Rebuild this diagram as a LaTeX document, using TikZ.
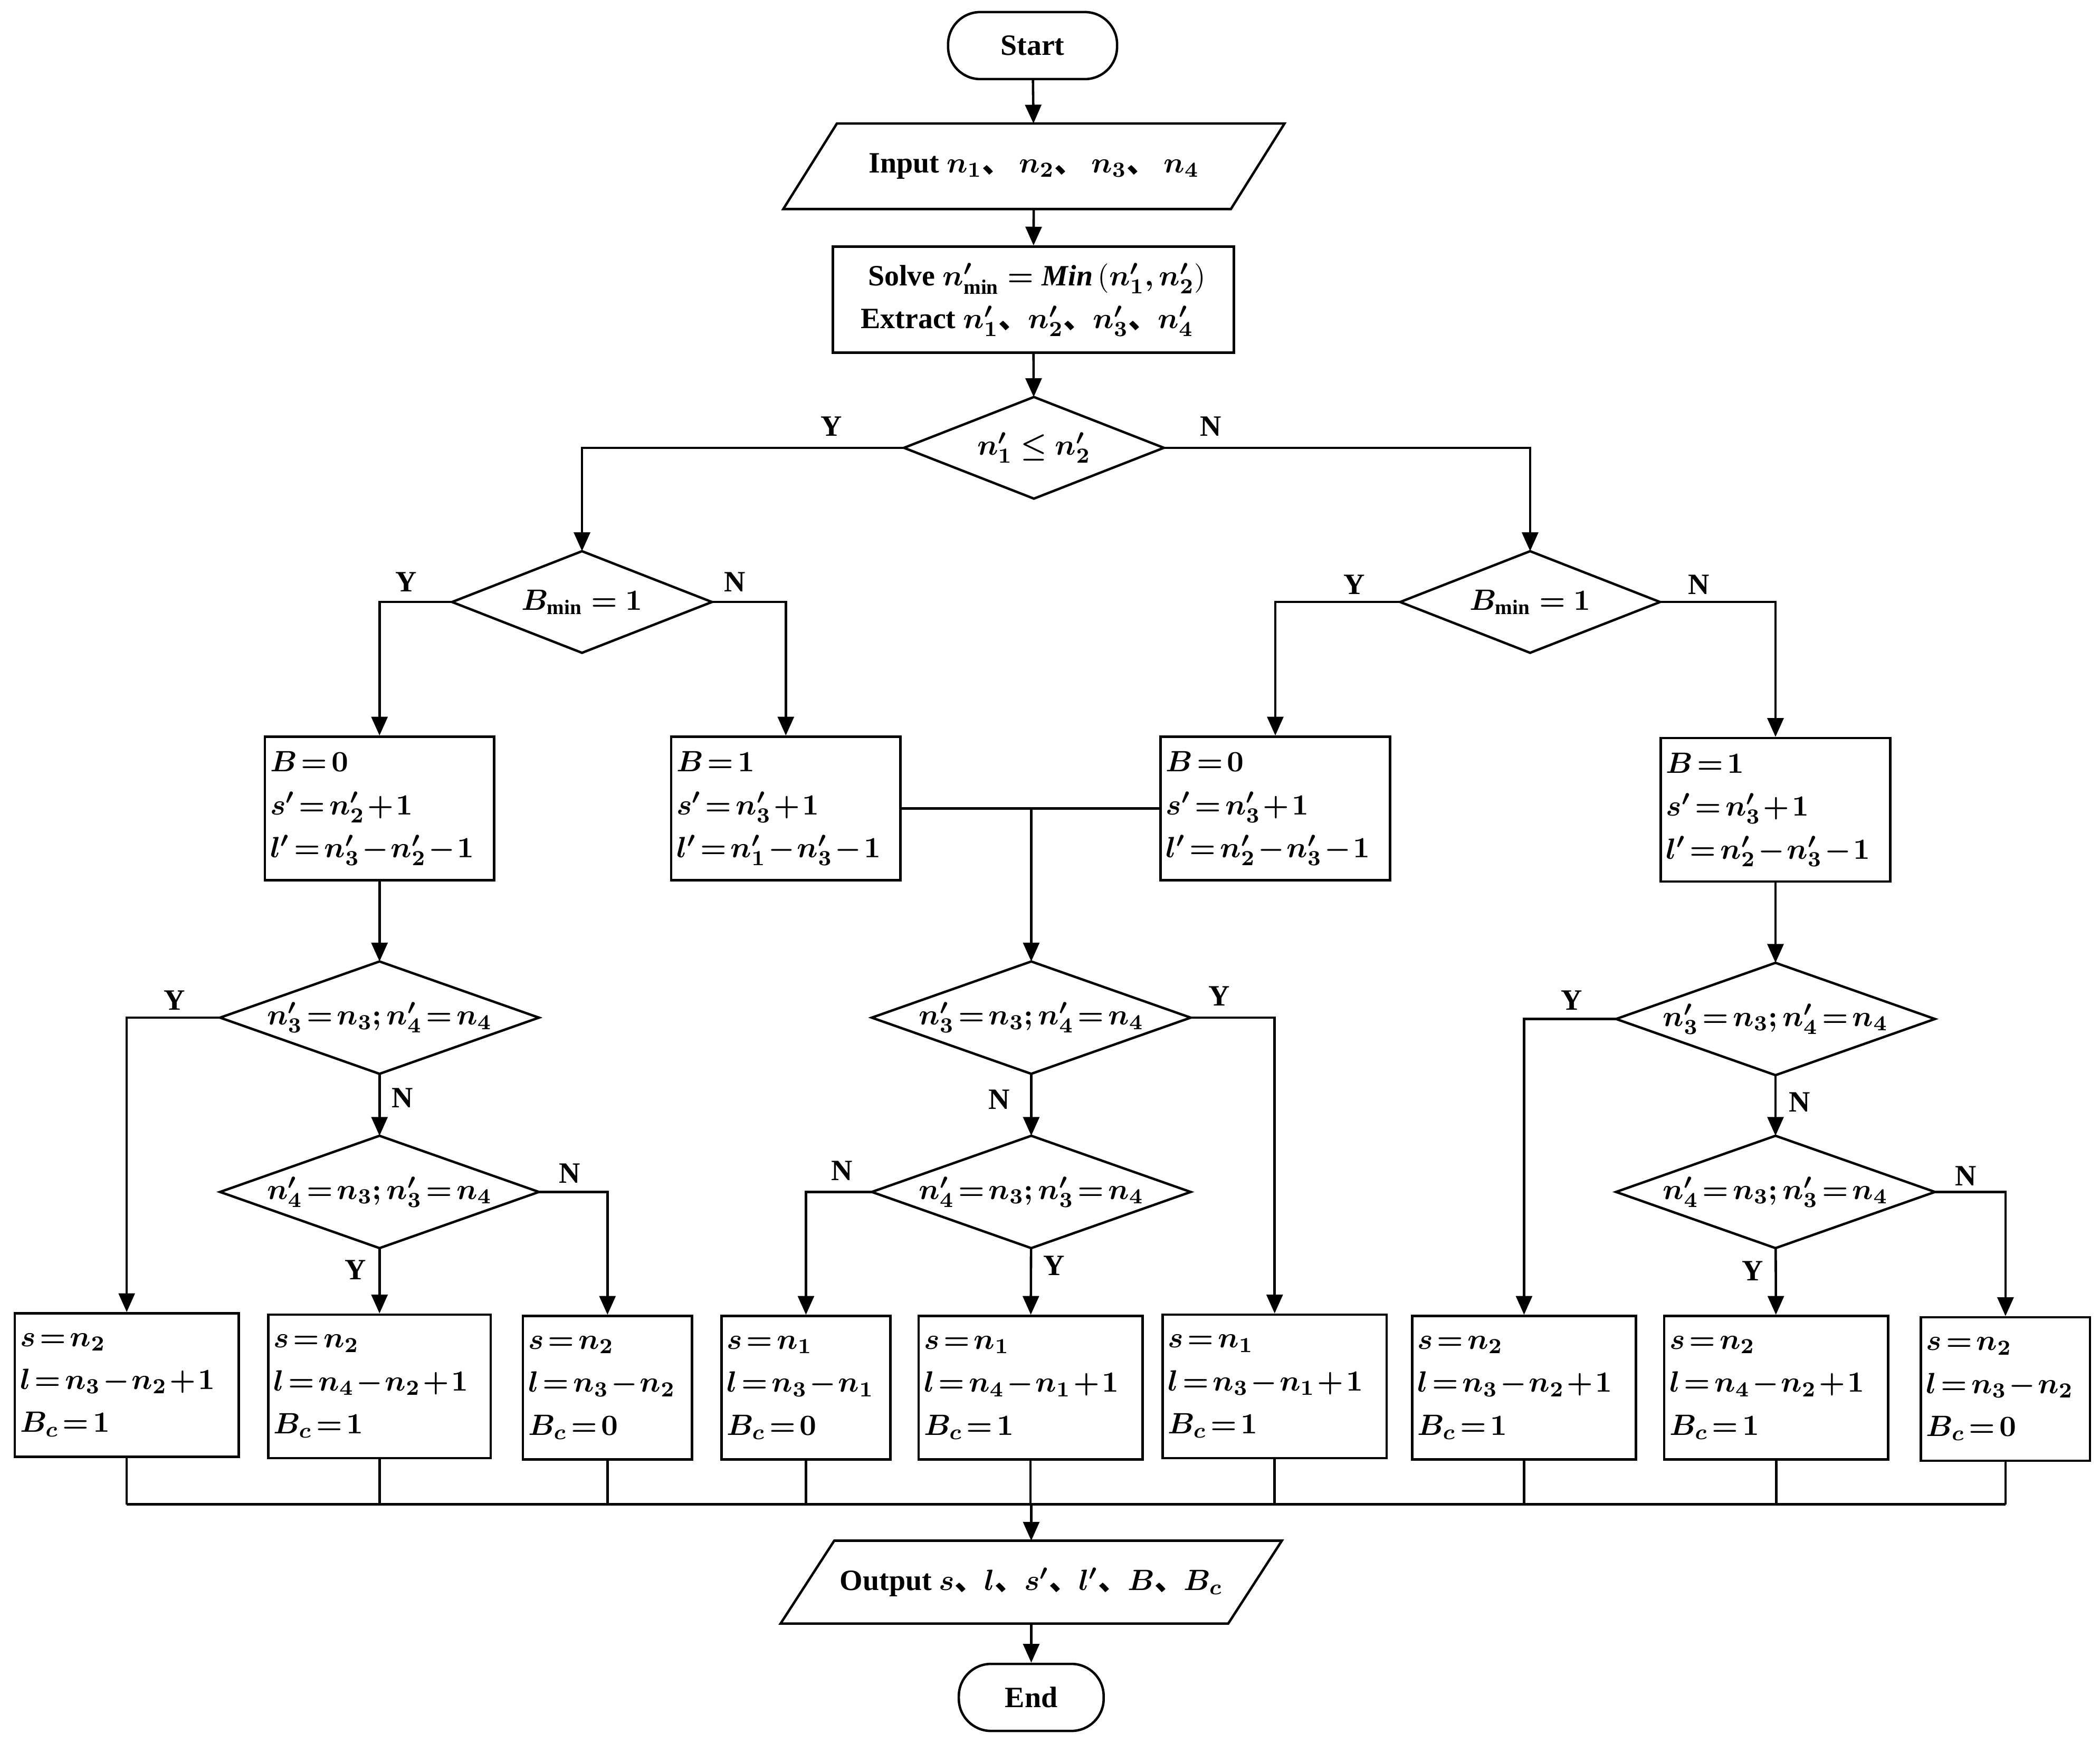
\documentclass[tikz,border=0pt]{standalone}
\usepackage{fontspec}
\setmainfont{Liberation Serif}
\newfontfamily\cjk{Noto Sans CJK SC}
\usepackage{amsmath,bm}
\usetikzlibrary{arrows.meta}
\newcommand{\bb}[1]{$\bm{#1}$}
\newcommand{\dn}{{\cjk 、}}
\begin{document}
\begin{tikzpicture}[x=0.5pt,y=-0.5pt,line width=0.9pt,
  every node/.style={font=\bfseries\fontsize{11}{16}\selectfont},
  arr/.style={-{Triangle[length=7pt,width=6pt]}},
  box/.style={draw,minimum width=85.5pt,text width=81.5pt,minimum height=53.5pt,align=left,inner sep=2pt,
    execute at begin node={\medmuskip=1.5mu\thickmuskip=2.5mu}},
  sbox/.style={box,minimum width=63pt,text width=59pt},
  dia/.style={minimum width=118pt,minimum height=41pt,inner sep=0pt,execute at begin node={\medmuskip=1.5mu\thickmuskip=2.5mu}},
  dia2/.style={minimum width=96pt,minimum height=37pt,inner sep=0pt},
  lab/.style={font=\bfseries\fontsize{11}{12}\selectfont}]
\useasboundingbox (0,0) rectangle (1566,1300);
\newcommand{\dd}[1]{\draw (#1.west)--(#1.north)--(#1.east)--(#1.south)--cycle;}
\newcommand{\pg}[1]{\draw ([xshift=10pt]#1.north west)--([xshift=10pt]#1.north east)--([xshift=-10pt]#1.south east)--([xshift=-10pt]#1.south west)--cycle;}
% top
\node[draw,rounded corners=12pt,minimum width=63pt,minimum height=25pt] (st) at (770,34) {Start};
\node[minimum width=166pt,minimum height=31pt] (in) at (771,124) {Input \bb{n_1}\dn\ \bb{n_2}\dn\ \bb{n_3}\dn\ \bb{n_4}};
\pg{in}
\node[draw,minimum width=149.5pt,minimum height=39.5pt,align=left,inner sep=2pt] (so) at (770.5,223.5)
 {\ Solve $\bm{n'_{\min}=\mathit{Min}\left(n'_1,n'_2\right)}$\\Extract $\bm{n'_1}$\dn$\bm{n'_2}$\dn$\bm{n'_3}$\dn$\bm{n'_4}$};
\node[dia2] (d1) at (771,334) {$\bm{n'_1\le n'_2}$}; \dd{d1}
\node[dia2] (dl) at (434,449) {$\bm{B_{\min}=1}$}; \dd{dl}
\node[dia2] (dr) at (1141,449) {$\bm{B_{\min}=1}$}; \dd{dr}
% boxes row
\node[box] (b1) at (283,603) {$\bm{B=0}$\\$\bm{s'=n'_2+1}$\\$\bm{l'=n'_3-n'_2-1}$};
\node[box] (b2) at (586,603) {$\bm{B=1}$\\$\bm{s'=n'_3+1}$\\$\bm{l'=n'_1-n'_3-1}$};
\node[box] (b3) at (951,603) {$\bm{B=0}$\\$\bm{s'=n'_3+1}$\\$\bm{l'=n'_2-n'_3-1}$};
\node[box] (b4) at (1324,604) {$\bm{B=1}$\\$\bm{s'=n'_3+1}$\\$\bm{l'=n'_2-n'_3-1}$};
% diamonds
\foreach \n/\x/\yy in {L/283/0,M/769/0,R/1324/1}{
 \node[dia] (e\n) at (\x,759+\yy) {$\bm{n'_3=n_3;n'_4=n_4}$}; \dd{e\n}
 \node[dia] (f\n) at (\x,889) {$\bm{n'_4=n_3;n'_3=n_4}$}; \dd{f\n}
}
% bottom boxes
\node[box,minimum width=83.5pt,text width=79.5pt] (c1) at (94.5,1033) {$\bm{s=n_2}$\\$\bm{l=n_3-n_2+1}$\\$\bm{B_c=1}$};
\node[box,minimum width=83pt,text width=79pt] (c2) at (283,1034) {$\bm{s=n_2}$\\$\bm{l=n_4-n_2+1}$\\$\bm{B_c=1}$};
\node[sbox] (c3) at (453,1035) {$\bm{s=n_2}$\\$\bm{l=n_3-n_2}$\\$\bm{B_c=0}$};
\node[sbox] (c4) at (601,1035) {$\bm{s=n_1}$\\$\bm{l=n_3-n_1}$\\$\bm{B_c=0}$};
\node[box,minimum width=83.5pt,text width=79.5pt] (c5) at (768.5,1035) {$\bm{s=n_1}$\\$\bm{l=n_4-n_1+1}$\\$\bm{B_c=1}$};
\node[box,minimum width=83.5pt,text width=79.5pt] (c6) at (950.5,1034) {$\bm{s=n_1}$\\$\bm{l=n_3-n_1+1}$\\$\bm{B_c=1}$};
\node[box,minimum width=83.5pt,text width=79.5pt] (c7) at (1136.5,1035) {$\bm{s=n_2}$\\$\bm{l=n_3-n_2+1}$\\$\bm{B_c=1}$};
\node[box,minimum width=83.5pt,text width=79.5pt] (c8) at (1324.5,1035) {$\bm{s=n_2}$\\$\bm{l=n_4-n_2+1}$\\$\bm{B_c=1}$};
\node[sbox] (c9) at (1495.5,1036) {$\bm{s=n_2}$\\$\bm{l=n_3-n_2}$\\$\bm{B_c=0}$};
\node[minimum width=166pt,minimum height=30pt] (out) at (769,1180) {Output \bb{s}\dn\bb{l}\dn\bb{s'}\dn\bb{l'}\dn\bb{B}\dn\bb{B_c}};
\pg{out}
\node[draw,rounded corners=12pt,minimum width=54pt,minimum height=25pt] (en) at (769,1266) {End};
\coordinate (bus) at (769,1122);
% connectors
\draw[arr] (st)--(in); \draw[arr] (in)--(so); \draw[arr] (so)--(d1);
\draw[arr] (d1.west)-|(dl.north); \draw[arr] (d1.east)-|(dr.north);
\draw[arr] (dl.west)-|(b1.north); \draw[arr] (dl.east)-|(b2.north);
\draw[arr] (dr.west)-|(b3.north); \draw[arr] (dr.east)-|(b4.north);
\draw[arr] (b1)--(eL); \draw (b2.east)--(b3.west); \draw[arr] (769,603)--(eM.north); \draw[arr] (b4)--(eR);
\draw[arr] (eL.west)-|(c1.north); \draw[arr] (eL)--(fL); \draw[arr] (fL)--(c2); \draw[arr] (fL.east)-|(c3.north);
\draw[arr] (eM.east)-|(c6.north); \draw[arr] (eM)--(fM); \draw[arr] (fM)--(c5); \draw[arr] (fM.west)-|(c4.north);
\draw[arr] (eR.west)-|(c7.north); \draw[arr] (eR)--(fR); \draw[arr] (fR)--(c8); \draw[arr] (fR.east)-|(c9.north);
\foreach \c in {c1,c2,c3,c4,c5,c6,c7,c8,c9}{\draw (\c.south)--(\c.south|-bus);}
\draw (c1.south|-bus)--(c9.south|-bus);
\draw[arr] (bus)--(out); \draw[arr] (out)--(en);
% labels
\foreach \t/\x/\y in {Y/620/318,N/903/318,Y/303/434,N/548/434,Y/1010/436,N/1267/436,
 Y/130/746,N/300/819,Y/265/947,N/425/875,Y/909/743,N/745/820,N/628/873,Y/786/944,
 Y/1172/746,N/1342/822,Y/1307/948,N/1466/877}{\node[lab] at (\x,\y) {\t};}
\end{tikzpicture}
\end{document}
